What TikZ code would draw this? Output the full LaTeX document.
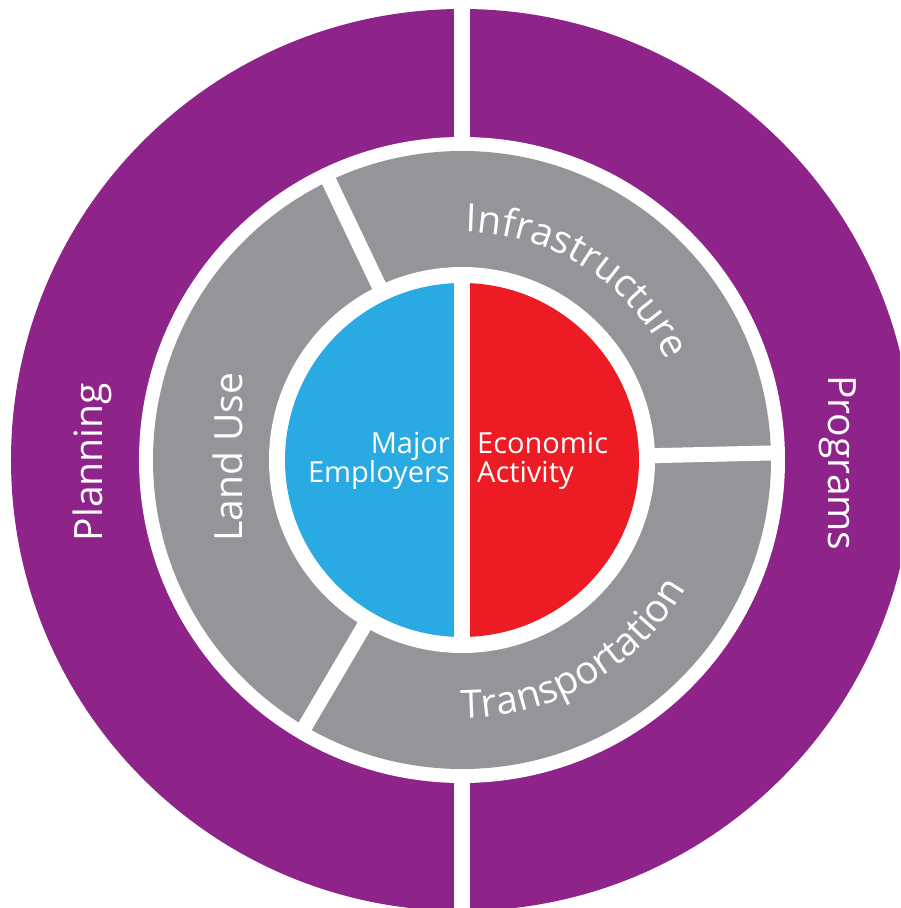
\documentclass[tikz,border=0pt]{standalone}
\usepackage{fontspec}
\setmainfont{Open Sans}
\usepackage{tikz}
\usetikzlibrary{decorations.text}

\definecolor{ringpurple}{RGB}{142,36,138}
\definecolor{ringgray}{RGB}{147,149,152}
\definecolor{coreblue}{RGB}{41,170,226}
\definecolor{corered}{RGB}{237,28,36}

\newcommand{\ringfont}{\fontsize{39}{39}\selectfont}
\newcommand{\corefont}{\fontsize{29}{29}\selectfont}

\begin{document}
\begin{tikzpicture}[x=1pt,y=1pt,
  gap/.style={draw=white,line width=16pt},
  ringtext/.style={text=white,font=\ringfont,inner sep=0pt},
  coretext/.style={text=white,font=\corefont,inner sep=0pt}]

\def\rout{451}
  \def\rpin{323}
  \def\rgout{309}
  \def\rgin{193}
  \def\rcore{177}

\useasboundingbox (-462,-448) rectangle (438,460);
\clip (-462,-448) rectangle (438,460);

% rings
\fill[ringpurple] (0,0) circle (\rout);
\fill[white] (0,0) circle (\rpin);
\fill[ringgray] (0,0) circle (\rgout);
\fill[white] (0,0) circle (\rgin);

% core halves
\fill[coreblue] (0,\rcore) arc (90:270:\rcore) -- cycle;
\fill[corered] (0,-\rcore) arc (-90:90:\rcore) -- cycle;

% white gaps
\draw[gap] (0,470) -- (0,316);
\draw[gap] (0,-470) -- (0,-316);
\draw[gap] (0,185) -- (0,-185);
        \foreach \a in {1.3,115.5,239.5}
                 \draw[gap,line width=15pt] (\a:185) -- (\a:316);

%outer ring labels
\node[ringtext,rotate=90] (planning) at (-370,-2) {Planning};
\node[ringtext,rotate=-90] (programs) at (376,-3) {Programs};

%middle ring labels
\node[ringtext,rotate=90] (landuse) at (-234,3) {Land Use};
\path[decorate,decoration={text along path,text format delimiters={|}{|},
  text={|\ringfont|Infrastructure},text align=center,text color=white}]
  (108:228) arc (108:7:228);
\path[decorate,decoration={text along path,text format delimiters={|}{|},
  text={|\ringfont|Transportation},text align=center,text color=white}]
  (245:258) arc (245:355:258);

%core labels
\node[coretext,anchor=base east] (major) at (-12,7) {Major};
\node[coretext,anchor=base east] (employers) at (-12,-22) {Employers};
\node[coretext,anchor=base west] (economic) at (15,7) {Economic};
\node[coretext,anchor=base west] (activity) at (15,-22) {Activity};

\end{tikzpicture}
\end{document}
